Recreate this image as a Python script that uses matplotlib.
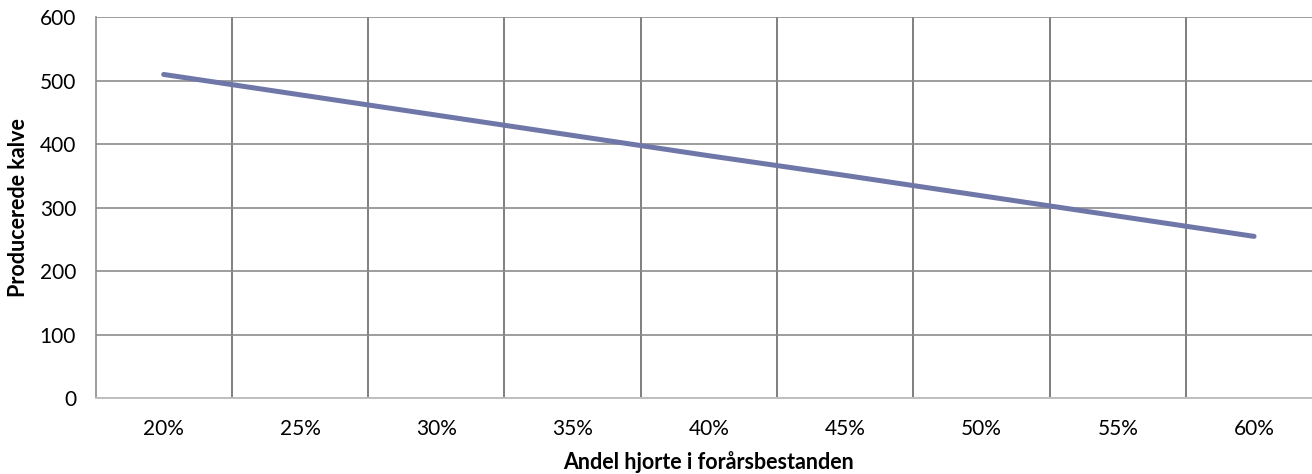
import matplotlib
matplotlib.use("Agg")
import matplotlib.pyplot as plt
import numpy as np

# Andel hjorte i forårsbestanden vs. producerede kalve
categories = ["20%", "25%", "30%", "35%", "40%", "45%", "50%", "55%", "60%"]
calves = [510, 478, 446, 414, 382, 351, 319, 287, 255]
y_ticks = [0, 100, 200, 300, 400, 500, 600]

plt.rcParams["font.family"] = ["Lato", "DejaVu Sans"]

fig = plt.figure(figsize=(13.12, 4.74), dpi=100)
ax = fig.add_axes([0.0728, 0.1597, 0.935, 0.8038])

x = np.arange(len(categories))
ax.plot(x, calves, color="#6F77A8", linewidth=3.6, solid_capstyle="round", zorder=3)

ax.set_xlim(-0.5, len(categories) - 0.5)
ax.set_ylim(0, 600)
ax.set_yticks(y_ticks)
ax.set_xticks(x)
ax.set_xticklabels(categories)
ax.set_xticks(np.arange(0.5, len(categories) - 0.5), minor=True)

ax.grid(axis="y", which="major", color="#8C8C8C", linewidth=1.2)
ax.grid(axis="x", which="minor", color="#7F7F7F", linewidth=1.4)
ax.grid(axis="x", which="major", visible=False)
ax.set_axisbelow(True)

for side in ["top", "right"]:
    ax.spines[side].set_visible(False)
ax.spines["left"].set_color("#8C8C8C")
ax.spines["left"].set_linewidth(1.2)
ax.spines["bottom"].set_color("#BFBFBF")
ax.spines["bottom"].set_linewidth(1.4)

ax.tick_params(axis="both", which="both", length=0, labelsize=15)
ax.tick_params(axis="y", pad=14)
ax.tick_params(axis="x", pad=15)

ax.set_xlabel("Andel hjorte i forårsbestanden", fontsize=15.5, fontweight="bold", va="center")
ax.set_ylabel("Producerede kalve", fontsize=15.5, fontweight="bold", va="center")
ax.xaxis.set_label_coords(0.5, -0.168)
ax.yaxis.set_label_coords(-0.063, 0.5)

fig.savefig("out.png", dpi=100)
